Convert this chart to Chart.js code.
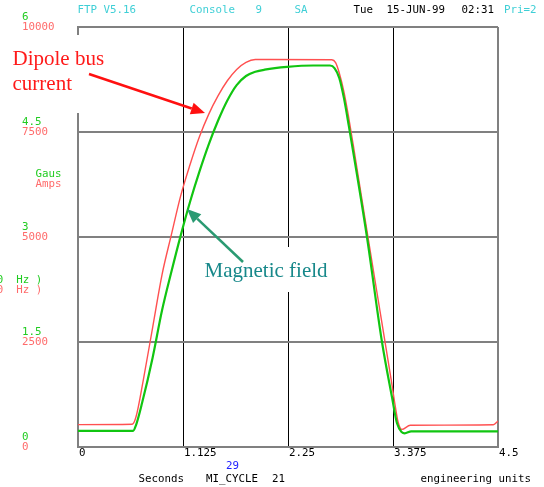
<!DOCTYPE html>
<html>
<head>
<meta charset="utf-8">
<script src="https://cdn.jsdelivr.net/npm/chart.js@4.4.0/dist/chart.umd.min.js"></script>
<style>
  body { margin: 0; background: #fff; }
  #wrap { width: 544px; height: 487px; }
</style>
</head>
<body>
<div id="wrap"><canvas id="myChart" width="544" height="487"></canvas></div>
<script>
// dipole bus current (Amps) against time (s)
const currentTime = [0, 0.58, 0.621, 0.70, 0.80, 0.90, 1.00, 1.10, 1.20, 1.30, 1.40, 1.50, 1.60, 1.70, 1.80, 1.90,
  2.72, 2.76, 2.80, 2.85, 2.90, 2.95, 3.00, 3.10, 3.20, 3.30, 3.36, 3.40, 3.43, 3.47, 3.56, 4.45, 4.5]
const currentAmps = [533, 540, 714, 1600, 2850, 4100, 5050, 5980, 6720, 7380, 7920, 8360, 8720, 8990, 9160, 9225,
  9220, 9150, 8900, 8450, 7850, 7180, 6480, 5090, 3720, 2360, 1540, 960, 590, 420, 517, 529, 620]

// magnetic field (Gauss) against time (s)
const fieldTime = [0, 0.59, 0.621, 0.685, 0.80, 0.90, 1.00, 1.10, 1.20, 1.30, 1.40, 1.50, 1.60, 1.70, 1.80, 1.90, 2.00, 2.24,
  2.52, 2.70, 2.75, 2.80, 2.85, 2.90, 3.096, 3.257, 3.364, 3.418, 3.471, 3.50, 3.57, 4.5]
const fieldGauss = [0.229, 0.229, 0.31, 0.62, 1.28, 1.95, 2.50, 3.02, 3.50, 3.93, 4.32, 4.66, 4.95, 5.17, 5.30, 5.36, 5.39, 5.43,
  5.45, 5.45, 5.41, 5.27, 4.98, 4.60, 3.0, 1.5, 0.714, 0.339, 0.21, 0.196, 0.224, 0.224]

const timeTicks = [0, 1.125, 2.25, 3.375, 4.5]
const timeLabels = ['0', '1.125', '2.25', '3.375', '4.5']
const ampTicks = [0, 2500, 5000, 7500, 10000]
const ampLabels = ['0', '2500', '5000', '7500', '10000']
const gaussLabels = ['0', '1.5', '3', '4.5', '6']

const MONO = '10.8px "DejaVu Sans Mono"'
const SERIF = '21px "Liberation Serif"'

function arrow(c, x1, y1, x2, y2, color) {
  const a = Math.atan2(y2 - y1, x2 - x1)
  const len = 14, half = 6
  const bx = x2 - len * Math.cos(a), by = y2 - len * Math.sin(a)
  c.strokeStyle = color
  c.fillStyle = color
  c.lineWidth = 2.5
  c.beginPath()
  c.moveTo(x1, y1)
  c.lineTo(bx, by)
  c.stroke()
  c.beginPath()
  c.moveTo(x2, y2)
  c.lineTo(bx + half * Math.sin(a), by - half * Math.cos(a))
  c.lineTo(bx - half * Math.sin(a), by + half * Math.cos(a))
  c.closePath()
  c.fill()
}

function txt(c, s, x, y, color, font) {
  c.font = font || MONO
  c.fillStyle = color
  c.fillText(s, x, y)
}

const overlay = {
  id: 'overlay',
  afterDraw(chart) {
    const c = chart.ctx
    const xs = chart.scales.x, ys = chart.scales.y
    c.save()
    c.textBaseline = 'middle'
    c.textAlign = 'left'

    // header line
    txt(c, 'FTP V5.16', 77.5, 10.5, '#3fcfd6')
    txt(c, 'Console', 189.5, 10.5, '#3fcfd6')
    txt(c, '9', 255.5, 10.5, '#3fcfd6')
    txt(c, 'SA', 294.5, 10.5, '#3fcfd6')
    txt(c, 'Tue', 353.5, 10.5, '#000')
    txt(c, '15-JUN-99', 386.5, 10.5, '#000')
    txt(c, '02:31', 461.5, 10.5, '#000')
    txt(c, 'Pri=2', 504, 10.5, '#3fcfd6')

    // y tick labels, gauss above amps
    ampTicks.forEach((v, i) => {
      const y = ys.getPixelForValue(v)
      txt(c, gaussLabels[i], 22, y - 10, '#22cc22')
      txt(c, ampLabels[i], 22, y, '#ff6b6b')
    })
    txt(c, 'Gaus', 35.5, 174, '#22cc22')
    txt(c, 'Amps', 35.5, 183.7, '#ff6b6b')
    txt(c, '0  Hz )', -3.2, 280, '#22cc22')
    txt(c, '0  Hz )', -3.2, 290.5, '#ff6b6b')

    // x tick labels
    timeTicks.forEach((v, i) => {
      txt(c, timeLabels[i], xs.getPixelForValue(v) + 1, 452.7, '#000')
    })
    txt(c, '29', 226, 466, '#2020ff')
    txt(c, 'Seconds', 138.5, 479.3, '#000')
    txt(c, 'MI_CYCLE', 206, 479.3, '#000')
    txt(c, '21', 272, 479.3, '#000')
    txt(c, 'engineering units', 420.5, 479.3, '#000')

    // annotation boxes
    c.fillStyle = '#fff'
    c.fillRect(5, 35, 175, 78)
    c.fillRect(198, 247, 137, 45)
    c.textBaseline = 'alphabetic'
    txt(c, 'Dipole bus', 12.5, 64.7, '#ff1a1a', SERIF)
    txt(c, 'current', 12.5, 90, '#ff1a1a', SERIF)
    arrow(c, 89, 74, 205, 113, '#ff1010')
    txt(c, 'Magnetic field', 204.5, 277.3, '#17888a', SERIF)
    arrow(c, 243, 262, 187, 209, '#2a9a72')
    c.restore()
  }
}

const ctx = document.getElementById('myChart')

const chart = new Chart(ctx, {
  type: 'line',
  data: {
    datasets: [{
      label: 'Magnetic field',
      data: fieldTime.map((t, i) => ({ x: t, y: fieldGauss[i] })),
      yAxisID: 'y1',
      borderColor: '#11c511',
      borderWidth: 2.2,
      pointRadius: 0,
      cubicInterpolationMode: 'monotone'
    }, {
      label: 'Dipole bus current',
      data: currentTime.map((t, i) => ({ x: t, y: currentAmps[i] })),
      yAxisID: 'y',
      borderColor: '#ff5050',
      borderWidth: 1.4,
      pointRadius: 0,
      cubicInterpolationMode: 'monotone'
    }]
  },
  options: {
    responsive: false,
    animation: false,
    layout: { padding: { left: 78, right: 46, top: 27, bottom: 40 } },
    plugins: { legend: { display: false }, tooltip: { enabled: false } },
    scales: {
      x: {
        type: 'linear',
        min: 0,
        max: 4.5,
        afterBuildTicks: (axis) => { axis.ticks = timeTicks.map(v => ({ value: v })) },
        ticks: { display: false },
        grid: {
          drawTicks: false,
          color: (g) => (g.tick && (g.tick.value === 0 || g.tick.value === 4.5)) ? '#808080' : '#000',
          lineWidth: (g) => (g.tick && (g.tick.value === 0 || g.tick.value === 4.5)) ? 2 : 1
        },
        border: { color: '#808080', width: 2 }
      },
      y: {
        min: 0,
        max: 10000,
        afterBuildTicks: (axis) => { axis.ticks = ampTicks.map(v => ({ value: v })) },
        ticks: { display: false },
        grid: { drawTicks: false, color: '#808080', lineWidth: 2 },
        border: { color: '#808080', width: 2 }
      },
      y1: {
        min: 0,
        max: 6,
        display: false
      }
    }
  },
  plugins: [overlay]
})
</script>
</body>
</html>
